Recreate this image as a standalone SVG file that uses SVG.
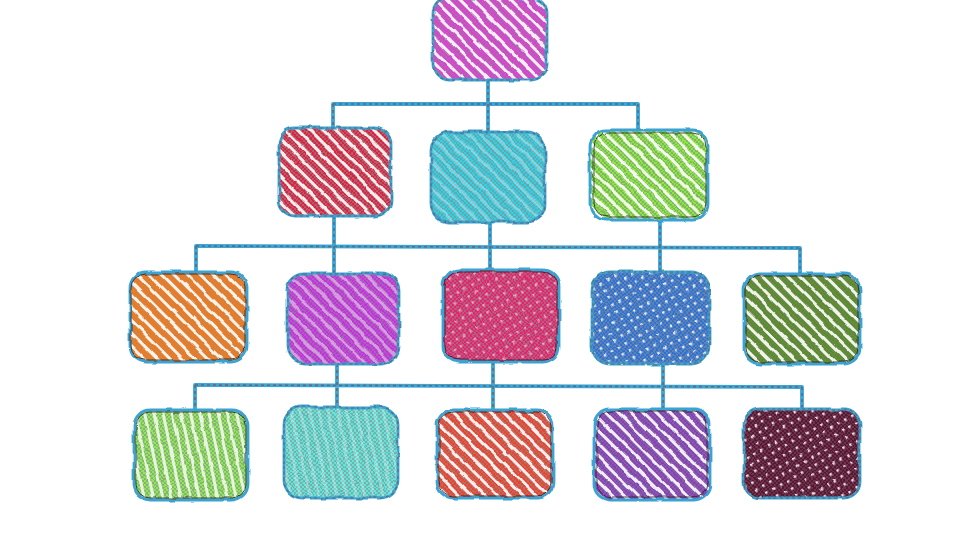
<svg xmlns="http://www.w3.org/2000/svg" width="960" height="540" viewBox="0 0 960 540">
<defs>
<pattern id="chk" width="4" height="4" patternUnits="userSpaceOnUse">
<rect x="2" y="0" width="2" height="2" fill="#8a8a8a"/>
<rect x="0" y="2" width="2" height="2" fill="#8a8a8a"/>
</pattern>
<pattern id="str" width="9" height="9" patternUnits="userSpaceOnUse" patternTransform="rotate(-45)">
<rect x="0" y="0" width="3" height="9" fill="#fff" opacity="0.9"/>
</pattern>
<pattern id="strv" width="9" height="9" patternUnits="userSpaceOnUse" patternTransform="rotate(-12)">
<rect x="0" y="0" width="3" height="9" fill="#fff" opacity="0.8"/>
</pattern>
<pattern id="dots" width="8" height="8" patternUnits="userSpaceOnUse" patternTransform="rotate(-30)">
<rect x="1" y="1" width="2.5" height="2.5" fill="#fff" opacity="0.85"/>
</pattern>
<filter id="rough" x="-5%" y="-5%" width="110%" height="110%">
<feTurbulence type="fractalNoise" baseFrequency="0.06" numOctaves="2" seed="3"/>
<feDisplacementMap in="SourceGraphic" scale="4" xChannelSelector="R" yChannelSelector="G"/>
</filter>
</defs>
<style>
.box{stroke:none}
.chk{fill:url(#chk);opacity:0.6}
.str{fill:url(#str)}
.strv{fill:url(#strv)}
.dots{fill:url(#dots)}
.out{fill:none;stroke:#3aa2d4;stroke-width:2.8}
.outd{fill:none;stroke:#666;stroke-width:1.1;stroke-dasharray:3 3}
.ink{fill:none;stroke:#222;stroke-width:0.8}
.ln{fill:none;stroke:#36a6dc;stroke-width:3.8;stroke-linecap:round;stroke-linejoin:round}
.lnd{fill:none;stroke:#6a6a6a;stroke-width:1.6;stroke-dasharray:3 3}
</style>
<rect width="960" height="540" fill="#fff"/>
<g id="connectors">
<path class="ln" d="M488 80 L488 104 M333 104 L638 104 M333 104 L333 128 M638 104 L638 130 M488 104 L488 132 M334 216 L334 273 M490 222 L490 272 M660 220 L660 273 M196 246 L800 248 M196 246 L196 272 M800 248 L800 275 M337 364 L337 408 M493 362 L493 410 M663 364 L663 410 M195 385 L802 387 M195 385 L195 411 M802 387 L802 409"/>
<path class="lnd" d="M488 80 L488 104 M333 104 L638 104 M333 104 L333 128 M638 104 L638 130 M488 104 L488 132 M334 216 L334 273 M490 222 L490 272 M660 220 L660 273 M196 246 L800 248 M196 246 L196 272 M800 248 L800 275 M337 364 L337 408 M493 362 L493 410 M663 364 L663 410 M195 385 L802 387 M195 385 L195 411 M802 387 L802 409"/>
</g>
<g id="n0" filter="url(#rough)"><rect class="box" x="433" y="-2" width="114" height="82" rx="16" fill="#e23ad9"/><rect class="chk" x="433" y="-2" width="114" height="82" rx="16"/><rect class="str" x="433" y="-2" width="114" height="82" rx="16"/><rect class="out" x="433" y="-2" width="114" height="82" rx="16"/><rect class="outd" x="433" y="-2" width="114" height="82" rx="16"/></g>
<g id="n1" filter="url(#rough)"><rect class="box" x="279" y="128" width="112" height="88" rx="16" fill="#e0233f"/><rect class="chk" x="279" y="128" width="112" height="88" rx="16"/><rect class="str" x="279" y="128" width="112" height="88" rx="16"/><rect class="out" x="279" y="128" width="112" height="88" rx="16"/><rect class="outd" x="279" y="128" width="112" height="88" rx="16"/></g>
<g id="n2" filter="url(#rough)"><rect class="box" x="431" y="132" width="114" height="90" rx="18" fill="#2fd2e6"/><rect class="chk" x="431" y="132" width="114" height="90" rx="18"/><rect class="str" x="431" y="132" width="114" height="90" rx="18" opacity="0.35"/><rect class="out" x="431" y="132" width="114" height="90" rx="18"/><rect class="outd" x="431" y="132" width="114" height="90" rx="18"/></g>
<g id="n3" filter="url(#rough)"><rect class="box" x="590" y="130" width="118" height="90" rx="16" fill="#84ea3a"/><rect class="chk" x="590" y="130" width="118" height="90" rx="16"/><rect class="str" x="590" y="130" width="118" height="90" rx="16"/><rect class="out" x="590" y="130" width="118" height="90" rx="16"/><rect class="ink" x="594" y="133" width="112" height="84" rx="14"/></g>
<g id="n4" filter="url(#rough)"><rect class="box" x="130" y="272" width="117" height="90" rx="16" fill="#f07b22"/><rect class="chk" x="130" y="272" width="117" height="90" rx="16" style="opacity:0.3"/><rect class="str" x="130" y="272" width="117" height="90" rx="16"/><rect class="out" x="130" y="272" width="117" height="90" rx="16"/><rect class="ink" x="131" y="274" width="114" height="86" rx="14"/></g>
<g id="n5" filter="url(#rough)"><rect class="box" x="287" y="273" width="112" height="91" rx="18" fill="#c92ee6"/><rect class="chk" x="287" y="273" width="112" height="91" rx="18"/><rect class="str" x="287" y="273" width="112" height="91" rx="18" opacity="0.5"/><rect class="out" x="287" y="273" width="112" height="91" rx="18"/><rect class="outd" x="287" y="273" width="112" height="91" rx="18"/></g>
<g id="n6" filter="url(#rough)"><rect class="box" x="443" y="270" width="116" height="92" rx="16" fill="#e8226e"/><rect class="chk" x="443" y="270" width="116" height="92" rx="16"/><rect class="dots" x="443" y="270" width="116" height="92" rx="16" opacity="0.6"/><rect class="out" x="443" y="270" width="116" height="92" rx="16"/><rect class="ink" x="445" y="272" width="112" height="88" rx="14"/></g>
<g id="n7" filter="url(#rough)"><rect class="box" x="592" y="272" width="117" height="92" rx="18" fill="#2a73da"/><rect class="chk" x="592" y="272" width="117" height="92" rx="18"/><rect class="dots" x="592" y="272" width="117" height="92" rx="18"/><rect class="out" x="592" y="272" width="117" height="92" rx="18"/><rect class="outd" x="592" y="272" width="117" height="92" rx="18"/></g>
<g id="n8" filter="url(#rough)"><rect class="box" x="744" y="274" width="116" height="90" rx="16" fill="#5a8a2c"/><rect class="chk" x="744" y="274" width="116" height="90" rx="16" style="opacity:0.3"/><rect class="str" x="744" y="274" width="116" height="90" rx="16"/><rect class="out" x="744" y="274" width="116" height="90" rx="16"/><rect class="ink" x="746" y="276" width="112" height="86" rx="14" stroke-width="2"/></g>
<g id="n9" filter="url(#rough)"><rect class="box" x="134" y="410" width="114" height="90" rx="16" fill="#8ce856"/><rect class="chk" x="134" y="410" width="114" height="90" rx="16"/><rect class="strv" x="134" y="410" width="114" height="90" rx="16"/><rect class="out" x="134" y="410" width="114" height="90" rx="16"/><rect class="ink" x="136" y="412" width="110" height="86" rx="14"/></g>
<g id="n10" filter="url(#rough)"><rect class="box" x="284" y="407" width="114" height="91" rx="18" fill="#5ee6dc"/><rect class="chk" x="284" y="407" width="114" height="91" rx="18"/><rect class="strv" x="284" y="407" width="114" height="91" rx="18" opacity="0.35"/><rect class="out" x="284" y="407" width="114" height="91" rx="18"/><rect class="outd" x="284" y="407" width="114" height="91" rx="18"/></g>
<g id="n11" filter="url(#rough)"><rect class="box" x="437" y="410" width="116" height="88" rx="16" fill="#f2402a"/><rect class="chk" x="437" y="410" width="116" height="88" rx="16"/><rect class="str" x="437" y="410" width="116" height="88" rx="16"/><rect class="out" x="437" y="410" width="116" height="88" rx="16"/><rect class="ink" x="439" y="412" width="112" height="84" rx="14"/></g>
<g id="n12" filter="url(#rough)"><rect class="box" x="594" y="409" width="116" height="91" rx="16" fill="#8442b6"/><rect class="chk" x="594" y="409" width="116" height="91" rx="16" style="opacity:0.35"/><rect class="str" x="594" y="409" width="116" height="91" rx="16"/><rect class="out" x="594" y="409" width="116" height="91" rx="16"/><rect class="ink" x="597" y="411" width="110" height="86" rx="14"/></g>
<g id="n13" filter="url(#rough)"><rect class="box" x="744" y="409" width="116" height="89" rx="16" fill="#5a1232"/><rect class="chk" x="744" y="409" width="116" height="89" rx="16" style="opacity:0.3"/><rect class="dots" x="744" y="409" width="116" height="89" rx="16"/><rect class="out" x="744" y="409" width="116" height="89" rx="16"/><rect class="outd" x="744" y="409" width="116" height="89" rx="16"/></g>
</svg>
